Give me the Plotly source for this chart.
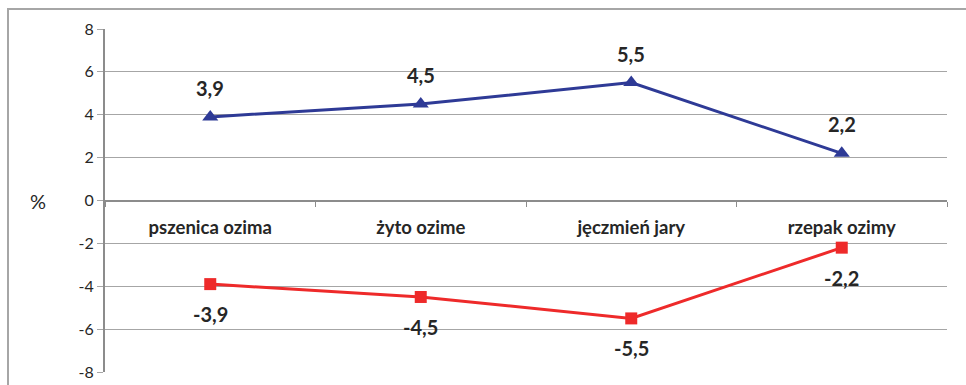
import plotly.graph_objects as go

categories = ["pszenica ozima", "żyto ozime", "jęczmień jary", "rzepak ozimy"]
positive = [3.9, 4.5, 5.5, 2.2]
negative = [-3.9, -4.5, -5.5, -2.2]
y_ticks = [-8, -6, -4, -2, 0, 2, 4, 6, 8]

BLUE = "#2e3a96"
RED = "#ee2a2a"
GRID = "#a6a6a6"
TXT = "#262626"
FONT = "Lato, 'Open Sans', sans-serif"

fig = go.Figure()
fig.add_trace(go.Scatter(
    x=categories, y=positive, mode="lines+markers",
    line=dict(color=BLUE, width=3),
    marker=dict(symbol="triangle-up", size=14, color=BLUE),
    showlegend=False, cliponaxis=False,
))
fig.add_trace(go.Scatter(
    x=categories, y=negative, mode="lines+markers",
    line=dict(color=RED, width=3),
    marker=dict(symbol="square", size=12, color=RED),
    showlegend=False, cliponaxis=False,
))

def fmt(v):
    return f"{v:.1f}".replace(".", ",")

for c, v in zip(categories, positive):
    fig.add_annotation(x=c, y=v, text=f"<b>{fmt(v)}</b>", showarrow=False,
                       yshift=29, font=dict(size=20, color=TXT, family=FONT))
for c, v in zip(categories, negative):
    fig.add_annotation(x=c, y=v, text=f"<b>{fmt(v)}</b>", showarrow=False,
                       yshift=-30, font=dict(size=20, color=TXT, family=FONT))

fig.add_annotation(xref="paper", yref="y", x=-0.0796, y=0, text="%",
                   showarrow=False, xanchor="center",
                   font=dict(size=20, color=TXT, family=FONT))

# outer chart border
fig.add_shape(type="rect", xref="paper", yref="paper",
              x0=-0.1152, x1=1.2, y0=-0.2, y1=1.058,
              line=dict(color="#a6a6a6", width=2), layer="below")

fig.update_layout(
    width=966, height=385,
    margin=dict(l=105, r=19, t=29, b=13, autoexpand=False),
    paper_bgcolor="white", plot_bgcolor="white",
    font=dict(family=FONT, color=TXT),
    xaxis=dict(
        type="category", categoryorder="array", categoryarray=categories,
        range=[-0.5, 3.5], automargin=False,
        anchor="free", position=0.5,
        showline=True, linecolor="#8c8c8c", linewidth=2,
        showgrid=False, zeroline=False,
        ticks="outside", tickson="boundaries", ticklen=5, tickcolor="#8c8c8c",
        ticklabelstandoff=10,
        tickfont=dict(size=18.5, color=TXT, family=FONT, weight="bold"),
    ),
    yaxis=dict(
        range=[-8, 8], tickvals=y_ticks, automargin=False,
        ticktext=[str(t) for t in y_ticks],
        showgrid=True, gridcolor=GRID, gridwidth=1,
        zeroline=False,
        showline=True, linecolor="#8c8c8c", linewidth=2,
        ticks="outside", ticklen=6, tickcolor=GRID,
        tickfont=dict(size=16, color=TXT, family=FONT),
    ),
)

fig.write_html("out.html", config={"displayModeBar": False},
               post_script="document.body.style.margin='0';document.body.style.overflow='hidden';")
